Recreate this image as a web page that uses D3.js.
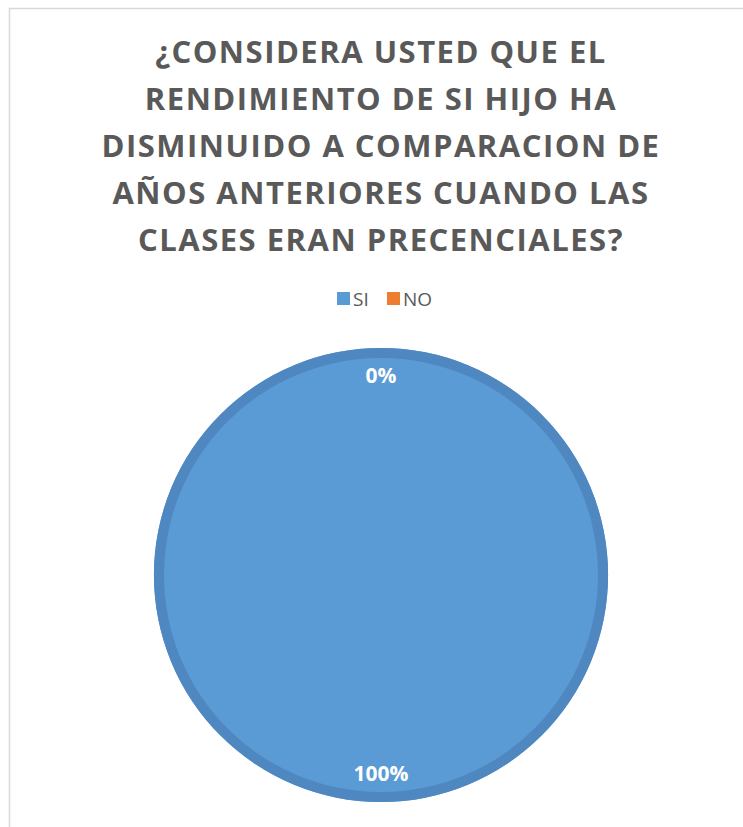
<!DOCTYPE html>
<html>
<head>
<meta charset="utf-8">
<style>
  body { margin: 0; background: #fff; }
  svg { display: block; }
</style>
</head>
<body>
<div id="chart"></div>
<script src="https://cdnjs.cloudflare.com/ajax/libs/d3/7.8.5/d3.min.js"></script>
<script>
    // chart data
    const titleLines = [
        "¿CONSIDERA USTED QUE EL",
        "RENDIMIENTO DE SI HIJO HA",
        "DISMINUIDO A COMPARACION DE",
        "AÑOS ANTERIORES CUANDO LAS",
        "CLASES ERAN PRECENCIALES?"
    ];
    const categories = ["SI", "NO"];
    const values = [100, 0];
    const colors = ["#5b9bd5", "#ed7d31"];

    const width = 743, height = 827;
    const cx = 381, cy = 575, radius = 227;
    const fontFam = "'Open Sans', 'DejaVu Sans', sans-serif";

    const svg = d3.select("#chart").append("svg")
        .attr("width", width)
        .attr("height", height);

    // chart area border
    svg.append("rect")
        .attr("x", 9.5).attr("y", 8.5)
        .attr("width", 900).attr("height", 900)
        .attr("fill", "#fff")
        .attr("stroke", "#d9d9d9")
        .attr("stroke-width", 1.5);

    // title
    svg.append("g")
        .selectAll("text")
        .data(titleLines)
        .join("text")
        .attr("x", cx)
        .attr("y", (d, i) => 63 + i * 47)
        .attr("text-anchor", "middle")
        .attr("font-family", fontFam)
        .attr("font-weight", "bold")
        .attr("font-size", 31)
        .attr("letter-spacing", 1.5)
        .attr("fill", "#595959")
        .text(d => d);

    // legend
    const legend = svg.append("g").attr("transform", "translate(337,291)");
    const legendX = d3.scaleOrdinal().domain(categories).range([0, 50]);
    const item = legend.selectAll("g")
        .data(categories)
        .join("g")
        .attr("transform", d => `translate(${legendX(d)},0)`);
    item.append("rect")
        .attr("width", 13).attr("height", 13)
        .attr("y", 1)
        .attr("fill", (d, i) => colors[i]);
    item.append("text")
        .attr("x", 16)
        .attr("y", 14.5)
        .attr("font-family", fontFam)
        .attr("font-size", 19)
        .attr("fill", "#595959")
        .text(d => d);

    // pie
    const pie = d3.pie().sort(null).value(d => d);
    const arcs = pie(values);
    const arc = d3.arc().innerRadius(0).outerRadius(radius);
    const ring = d3.arc().innerRadius(radius - 10).outerRadius(radius);
    const labelArc = d3.arc().innerRadius(radius - 28).outerRadius(radius - 28);

    const g = svg.append("g").attr("transform", `translate(${cx},${cy})`);
    g.selectAll("path.slice")
        .data(arcs)
        .join("path")
        .attr("class", "slice")
        .attr("d", arc)
        .attr("fill", (d, i) => colors[i]);
    g.selectAll("path.ring")
        .data(arcs.filter(d => d.value > 0))
        .join("path")
        .attr("class", "ring")
        .attr("d", ring)
        .attr("fill", "#4f88c1");

    const total = d3.sum(values);
    g.selectAll("text.lbl")
        .data(arcs)
        .join("text")
        .attr("class", "lbl")
        .attr("transform", d => {
            const [x, y] = labelArc.centroid(d);
            return `translate(${x},${y})`;
        })
        .attr("text-anchor", "middle")
        .attr("dy", "0.35em")
        .attr("font-family", fontFam)
        .attr("font-weight", "bold")
        .attr("font-size", 21)
        .attr("fill", "#fff")
        .text(d => d3.format(".0%")(d.value / total));
</script>
</body>
</html>
